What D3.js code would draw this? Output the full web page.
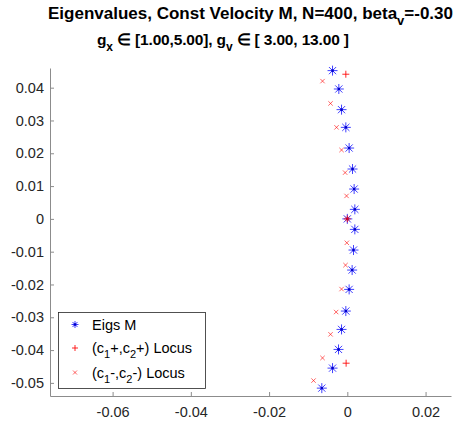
<!DOCTYPE html>
<html>
<head>
<meta charset="utf-8">
<script src="https://cdn.jsdelivr.net/npm/d3@7"></script>
<style>
  body { margin: 0; background: #fff; }
  text { font-family: "Liberation Sans", Arial, sans-serif; }
</style>
</head>
<body>
<div id="chart"></div>
<script>
// Eigs M (blue stars)
var eigRe = [-0.00378, -0.00217, -0.00148, -0.00038, 0.00046, 0.00133, 0.00174, 0.00192, 0.0,
             0.00192, 0.00158, 0.00123, 0.00046, -0.00038, -0.00148, -0.00225, -0.00378, -0.00652];
var eigIm = [0.0452, 0.0396, 0.0333, 0.0279, 0.0216, 0.0152, 0.0091, 0.0029, 0.0,
             -0.0032, -0.0095, -0.0156, -0.0215, -0.0281, -0.0337, -0.0398, -0.0455, -0.0516];

// (c1+,c2+) locus (red plus)
var plusRe = [-0.00038, 0.0, -0.00031];
var plusIm = [0.0441, 0.0, -0.0440];

// (c1-,c2-) locus (red x)
var minusRe = [-0.00634, -0.00429, -0.00276, -0.00148, -0.00056, -0.0002, 0.0,
               -0.00013, -0.00046, -0.00148, -0.00286, -0.00429, -0.00634, -0.00864];
var minusIm = [0.0420, 0.0352, 0.0279, 0.0210, 0.0141, 0.0070, 0.0,
               -0.0073, -0.0141, -0.0214, -0.0284, -0.0352, -0.0424, -0.0493];

var xTicks = [-0.06, -0.04, -0.02, 0, 0.02];
var yTicks = [-0.05, -0.04, -0.03, -0.02, -0.01, 0, 0.01, 0.02, 0.03, 0.04];

var width = 458, height = 427;
var mLeft = 50, mRight = 451, mTop = 68, mBottom = 396;

var svg = d3.select("#chart").append("svg")
    .attr("width", width)
    .attr("height", height);

var x = d3.scaleLinear().domain([-0.076, 0.0265]).range([mLeft, mRight]);
var y = d3.scaleLinear().domain([-0.054, 0.046]).range([mBottom, mTop]);

function fmt(v) {
    if (Math.abs(v) < 1e-12) return "0";
    return v.toFixed(2);
}

// axes, MATLAB style, ticks pointing inward
var xAxis = svg.append("g")
    .attr("transform", "translate(0," + mBottom + ")")
    .call(d3.axisBottom(x).tickValues(xTicks).tickFormat(fmt).tickSizeInner(-4).tickSizeOuter(0).tickPadding(11));
var yAxis = svg.append("g")
    .attr("transform", "translate(" + mLeft + ",0)")
    .call(d3.axisLeft(y).tickValues(yTicks).tickFormat(fmt).tickSizeInner(-4).tickSizeOuter(0).tickPadding(6));

[xAxis, yAxis].forEach(function (a) {
    a.select(".domain").attr("stroke", "#8c8c8c");
    a.selectAll(".tick line").attr("stroke", "#8c8c8c");
    a.selectAll(".tick text")
        .attr("fill", "#262626")
        .style("font-size", "14.5px");
});
xAxis.selectAll(".tick text").attr("dy", "0.71em");

// marker drawing
function star(g, cx, cy, r) {
    var d = r * 0.72;
    g.append("path")
        .attr("d", "M" + (cx - r) + "," + cy + "H" + (cx + r) +
                   "M" + cx + "," + (cy - r) + "V" + (cy + r) +
                   "M" + (cx - d) + "," + (cy - d) + "L" + (cx + d) + "," + (cy + d) +
                   "M" + (cx - d) + "," + (cy + d) + "L" + (cx + d) + "," + (cy - d))
        .attr("stroke", "#0000ff")
        .attr("stroke-width", 1)
        .attr("stroke-opacity", 0.75)
        .attr("fill", "none");
    g.append("rect")
        .attr("x", cx - 1.2).attr("y", cy - 1.2)
        .attr("width", 2.4).attr("height", 2.4)
        .attr("fill", "#0000cc");
}
function plus(g, cx, cy, r) {
    g.append("path")
        .attr("d", "M" + (cx - r) + "," + cy + "H" + (cx + r) +
                   "M" + cx + "," + (cy - r) + "V" + (cy + r))
        .attr("stroke", "#ff0000")
        .attr("stroke-width", 1)
        .attr("stroke-opacity", 0.85)
        .attr("fill", "none");
}
function cross(g, cx, cy, r) {
    g.append("path")
        .attr("d", "M" + (cx - r) + "," + (cy - r) + "L" + (cx + r) + "," + (cy + r) +
                   "M" + (cx - r) + "," + (cy + r) + "L" + (cx + r) + "," + (cy - r))
        .attr("stroke", "#ff0000")
        .attr("stroke-width", 1)
        .attr("stroke-opacity", 0.6)
        .attr("fill", "none");
}

var marks = svg.append("g");
eigRe.forEach(function (v, i) { star(marks, x(v), y(eigIm[i]), 5); });
plusRe.forEach(function (v, i) { plus(marks, x(v), y(plusIm[i]), 3.5); });
minusRe.forEach(function (v, i) { cross(marks, x(v), y(minusIm[i]), 2.2); });

// rich text: parts with optional subscript
function richText(t, parts, subSize, shift) {
    var prevSub = false;
    parts.forEach(function (p) {
        var ts = t.append("tspan").text(p.s);
        if (p.sub) {
            ts.attr("dy", prevSub ? 0 : shift).style("font-size", subSize);
        } else if (prevSub) {
            ts.attr("dy", -shift);
        }
        prevSub = !!p.sub;
    });
}

// title
var title = svg.append("g")
    .attr("font-weight", "bold")
    .attr("fill", "#000")
    .style("font-size", "17px");
var t1 = title.append("text").attr("x", (mLeft + mRight) / 2).attr("y", 19).attr("text-anchor", "middle");
richText(t1, [{ s: "Eigenvalues, Const Velocity M, N=400, beta" }, { s: "v", sub: true }, { s: "=-0.30" }], "13px", 6);
// second line sits left of centre in the original
var t2 = title.append("text").attr("x", 97).attr("y", 45)
    .attr("text-anchor", "start")
    .style("font-size", "15.5px");
richText(t2, [{ s: "g" }, { s: "x", sub: true }, { s: " \u2208 [1.00,5.00], g" }, { s: "v", sub: true },
              { s: " \u2208 [ 3.00, 13.00 ]" }], "12px", 6);
var w2 = t2.node().getComputedTextLength();
if (w2 > 252) t2.attr("textLength", 252).attr("lengthAdjust", "spacing");

// legend
var legend = svg.append("g");
legend.append("rect")
    .attr("x", 58.5).attr("y", 312.5)
    .attr("width", 147).attr("height", 76)
    .attr("fill", "#fff")
    .attr("stroke", "#262626")
    .attr("stroke-width", 0.8);
var rows = [324.5, 348, 372.5];
star(legend, 75, rows[0], 3.5);
plus(legend, 75, rows[1], 3);
cross(legend, 75, rows[2], 2);
var legLabels = [
    [{ s: "Eigs M" }],
    [{ s: "(c" }, { s: "1", sub: true }, { s: "+,c" }, { s: "2", sub: true }, { s: "+) Locus" }],
    [{ s: "(c" }, { s: "1", sub: true }, { s: "-,c" }, { s: "2", sub: true }, { s: "-) Locus" }]
];
legLabels.forEach(function (parts, i) {
    var t = legend.append("text").attr("x", 92).attr("y", rows[i] + 5)
        .attr("fill", "#000").style("font-size", "14.5px");
    richText(t, parts, "11px", 5);
});
</script>
</body>
</html>
